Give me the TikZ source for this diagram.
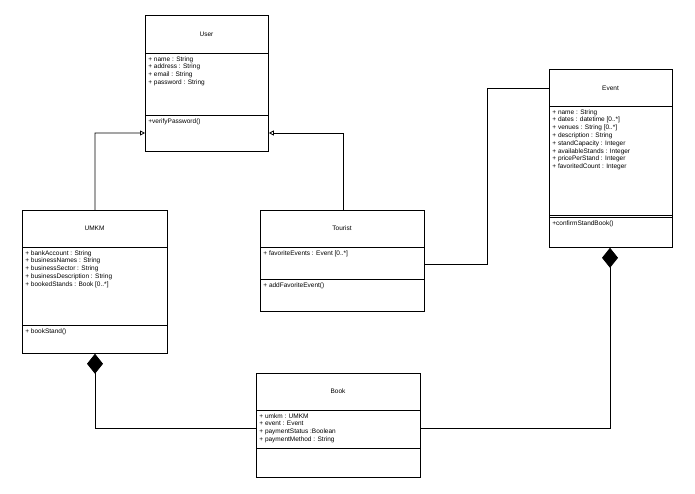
\documentclass[tikz,border=0pt]{standalone}
\usepackage{fontspec}
\setmainfont{Liberation Sans}
\begin{document}
\begin{tikzpicture}[x=1pt,y=-1pt,line width=0.8pt,
  txt/.style={anchor=north west,font=\fontsize{6.5}{7.8}\selectfont,align=left,inner sep=0pt},
  ttl/.style={font=\fontsize{6.5}{8}\selectfont,inner sep=0pt},
  gen/.style={-{Triangle[open,length=5pt,width=5pt]}},
  comp/.style={-{Diamond[fill=black,length=20pt,width=16pt]}}]
\usetikzlibrary{arrows.meta}
\path[use as bounding box] (0,0) rectangle (695,494);
% User
\node[draw,minimum width=123pt,minimum height=136pt,anchor=north west,inner sep=0pt] (user) at (145,15) {};
\draw (145,53) -- (268,53) (145,115) -- (268,115);
\node[ttl] (usert) at (206.5,34) {User};
\node[txt] (usera) at (148,56) {+ name : String\\+ address : String\\+ email : String\\+ password : String};
\node[txt] (userm) at (148,118) {+verifyPassword()};
% Event
\node[draw,minimum width=123pt,minimum height=178pt,anchor=north west,inner sep=0pt] (event) at (549,69) {};
\draw (549,106) -- (672,106) (549,215) -- (672,215) (549,217.5) -- (672,217.5);
\node[ttl] (eventt) at (610.5,88) {Event};
\node[txt] (eventa) at (552,109) {+ name : String\\+ dates : datetime [0..*]\\+ venues : String [0..*]\\+ description : String\\+ standCapacity : Integer\\+ availableStands : Integer\\+ pricePerStand : Integer\\+ favoritedCount : Integer};
\node[txt] (eventm) at (552,220) {+confirmStandBook()};
% UMKM
\node[draw,minimum width=145pt,minimum height=143pt,anchor=north west,inner sep=0pt] (umkm) at (22,210) {};
\draw (22,247) -- (167,247) (22,325) -- (167,325);
\node[ttl] (umkmt) at (94.5,228.5) {UMKM};
\node[txt] (umkma) at (25,250) {+ bankAccount : String\\+ businessNames : String\\+ businessSector : String\\+ businessDescription : String\\+ bookedStands : Book [0..*]};
\node[txt] (umkmm) at (25,328) {+ bookStand()};
% Tourist
\node[draw,minimum width=164pt,minimum height=101pt,anchor=north west,inner sep=0pt] (tour) at (260,210) {};
\draw (260,247) -- (424,247) (260,279) -- (424,279);
\node[ttl] (tourt) at (342,228.5) {Tourist};
\node[txt] (toura) at (263,250) {+ favoriteEvents : Event [0..*]};
\node[txt] (tourm) at (263,282) {+ addFavoriteEvent()};
% Book
\node[draw,minimum width=164pt,minimum height=104pt,anchor=north west,inner sep=0pt] (book) at (256,373) {};
\draw (256,410) -- (420,410) (256,448) -- (420,448);
\node[ttl] (bookt) at (338,391.5) {Book};
\node[txt] (booka) at (259,413) {+ umkm : UMKM\\+ event : Event\\+ paymentStatus :Boolean\\+ paymentMethod : String};
% connectors
\draw[gen] (umkm.north) -- (95,133) -- (user.west |- 0,133);
\draw[gen] (tour.north -| 343,0) -- (343,133) -- (user.east |- 0,133);
\draw (tour.east |- 0,264) -- (487,264) -- (487,88) -- (event.west |- 0,88);
\draw[comp] (book.west |- 0,428) -- (95,428) -- (umkm.south -| 95,0);
\draw[comp] (book.east |- 0,428) -- (610,428) -- (event.south -| 610,0);
\end{tikzpicture}
\end{document}
